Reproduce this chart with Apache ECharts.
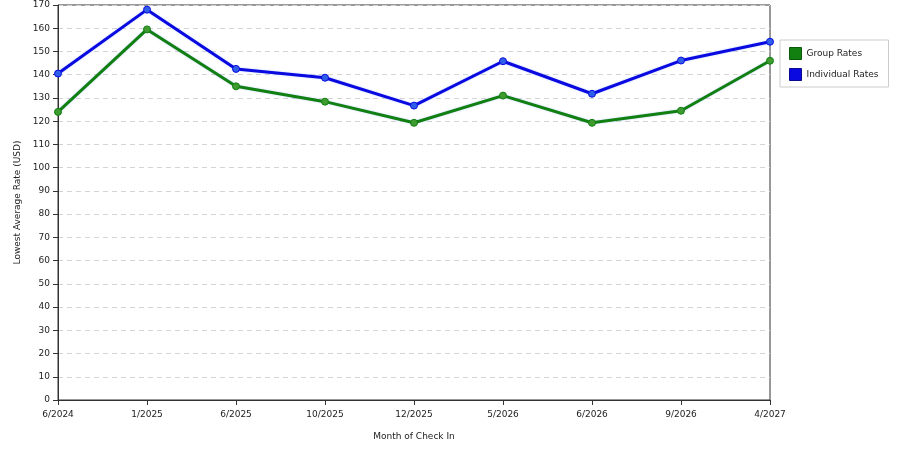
<!DOCTYPE html>
<html><head><meta charset="utf-8">
<script src="https://cdn.jsdelivr.net/npm/echarts@6/dist/echarts.min.js"></script>
<style>html,body{margin:0;padding:0;background:#fff}#c{width:900px;height:450px}</style>
</head><body><div id="c"></div>
<script>
const categories = ['6/2024','1/2025','6/2025','10/2025','12/2025','5/2026','6/2026','9/2026','4/2027'];
const groupRates = [124, 159.5, 135, 128.4, 119.3, 131, 119.3, 124.5, 146];
const individualRates = [140.5, 168, 142.5, 138.7, 126.7, 145.8, 131.8, 146.1, 154.2];
const seriesNames = ['Group Rates', 'Individual Rates'];
const seriesColors = ['#118011', '#0a0ae0'];
const symbolColors = ['#3f9a2f', '#2f5fe8'];

const font = 'DejaVu Sans, Verdana, sans-serif';
const chart = echarts.init(document.getElementById('c'));
function mk(name, data, color, sym) {
  return {
    name, type: 'line', data,
    symbol: 'circle', symbolSize: 7,
    itemStyle: { color: sym, borderColor: color, borderWidth: 1 },
    lineStyle: { color: color, width: 3, shadowColor: 'rgba(120,160,255,0.5)', shadowBlur: 2 },
    emphasis: { disabled: true }, animation: false
  };
}
chart.setOption({
  animation: false,
  grid: { left: 58, right: 130, top: 5, bottom: 50, show: true, borderColor: '#333', borderWidth: 1 },
  legend: {
    orient: 'vertical', left: 780, top: 40,
    itemWidth: 12, itemHeight: 12, itemGap: 8,
    icon: 'rect',
    borderColor: '#ccc', borderWidth: 1, padding: [7, 10, 6, 9],
    textStyle: { fontFamily: font, fontSize: 9, color: '#222' },
    data: [
      { name: seriesNames[0], itemStyle: { color: seriesColors[0], borderColor: '#0a5a0a', borderWidth: 1 } },
      { name: seriesNames[1], itemStyle: { color: seriesColors[1], borderColor: '#0a0a90', borderWidth: 1 } }
    ]
  },
  xAxis: {
    type: 'category', data: categories, boundaryGap: false,
    name: 'Month of Check In', nameLocation: 'middle', nameGap: 32,
    nameTextStyle: { fontFamily: font, fontSize: 9, color: '#222' },
    axisLine: { lineStyle: { color: '#333', width: 1 } },
    axisTick: { show: true, length: 5, alignWithLabel: true, lineStyle: { color: '#333' } },
    axisLabel: { fontFamily: font, fontSize: 9, color: '#222', margin: 10, interval: 0 },
    splitLine: { show: false }
  },
  yAxis: {
    type: 'value', min: 0, max: 170, interval: 10,
    name: 'Lowest Average Rate (USD)', nameLocation: 'middle', nameGap: 36,
    nameTextStyle: { fontFamily: font, fontSize: 9, color: '#222' },
    axisLine: { show: true, lineStyle: { color: '#333', width: 1 } },
    axisTick: { show: true, length: 5, lineStyle: { color: '#333' } },
    axisLabel: { fontFamily: font, fontSize: 9, color: '#222', margin: 8 },
    splitLine: { show: true, lineStyle: { color: '#d4d4d4', type: [5, 4], width: 1 } }
  },
  series: [
    mk(seriesNames[0], groupRates, seriesColors[0], symbolColors[0]),
    mk(seriesNames[1], individualRates, seriesColors[1], symbolColors[1])
  ]
});
</script></body></html>
